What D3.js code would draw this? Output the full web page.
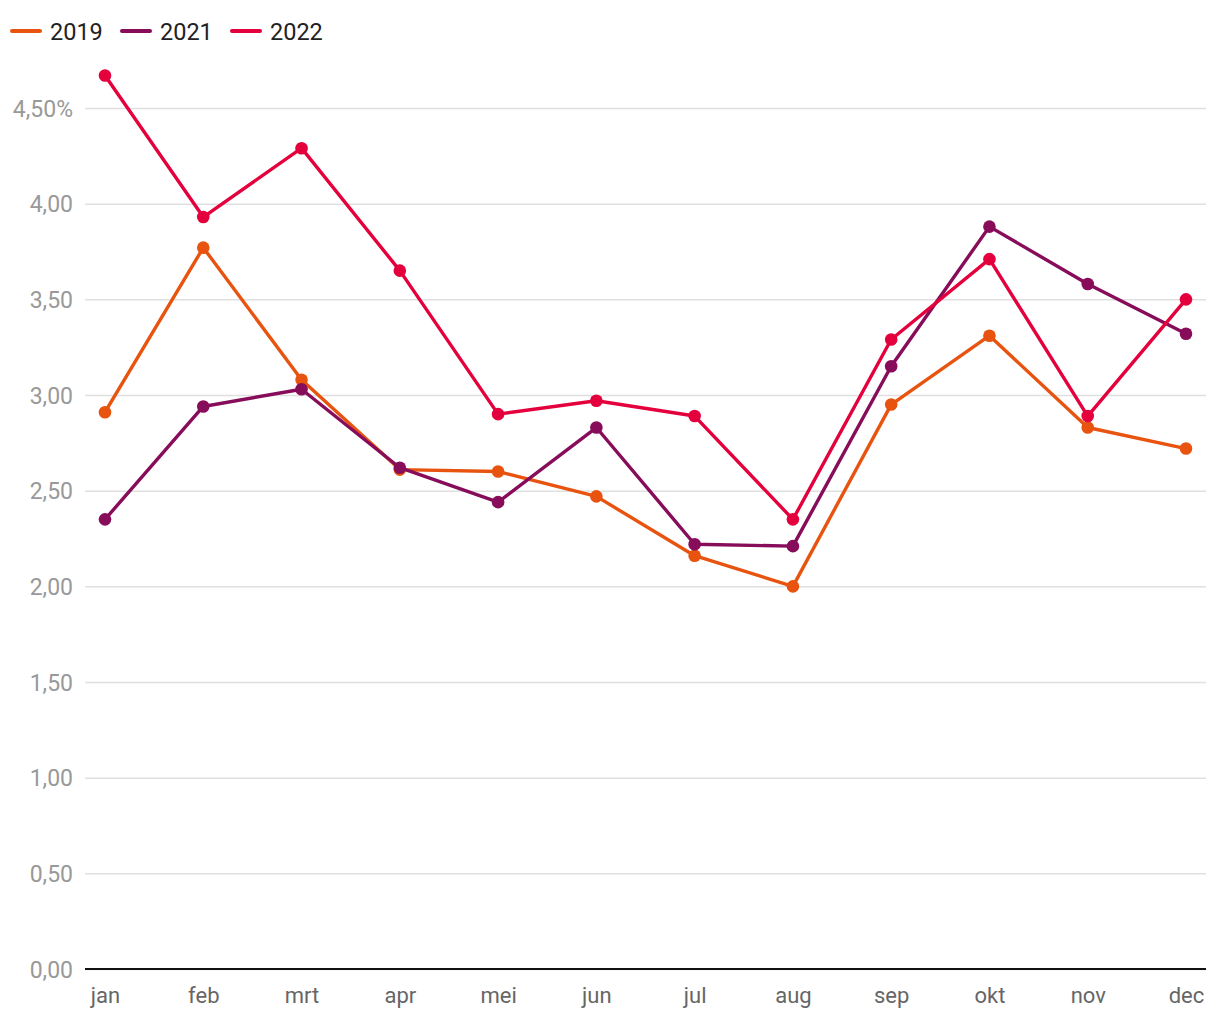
<!DOCTYPE html>
<html><head><meta charset="utf-8">
<script src="https://cdn.jsdelivr.net/npm/d3@7"></script>
<style>body{margin:0;background:#fff;font-family:Roboto,sans-serif}</style>
</head><body><svg id="c" width="1220" height="1020"></svg>
<script>
const months = ["jan","feb","mrt","apr","mei","jun","jul","aug","sep","okt","nov","dec"];
const seriesNames = ["2019","2021","2022"];
const v2019 = [2.91,3.77,3.08,2.61,2.60,2.47,2.16,2.00,2.95,3.31,2.83,2.72];
const v2021 = [2.35,2.94,3.03,2.62,2.44,2.83,2.22,2.21,3.15,3.88,3.58,3.32];
const v2022 = [4.67,3.93,4.29,3.65,2.90,2.97,2.89,2.35,3.29,3.71,2.89,3.50];
const yTicks = [0,0.5,1,1.5,2,2.5,3,3.5,4,4.5];
const colors = ["#e8540f","#870c5a","#e4003c"];
const data = [v2019,v2021,v2022];

const svg = d3.select("#c");
const x = d3.scalePoint().domain(months).range([105,1186]);
const y = d3.scaleLinear().domain([0,4.5]).range([969,108]);
const fmt = v => (v.toFixed(2).replace(".",",")) + (v===4.5?"%":"");

const yAxis = svg.append("g").attr("transform","translate(85,0)")
  .call(d3.axisLeft(y).tickValues(yTicks).tickSize(-1121).tickFormat(fmt).tickPadding(12));
yAxis.select(".domain").remove();
yAxis.selectAll(".tick line").attr("stroke","#e0e0e0").attr("stroke-width",1.5);
yAxis.selectAll(".tick text").attr("fill","#999").attr("font-size",23).attr("font-family","Roboto").attr("dy","0.36em");

svg.append("line").attr("x1",85).attr("x2",1206).attr("y1",y(0)).attr("y2",y(0)).attr("stroke","#111").attr("stroke-width",2);

const xAxis = svg.append("g").attr("transform",`translate(0,${y(0)})`)
  .call(d3.axisBottom(x).tickSize(0).tickPadding(18));
xAxis.select(".domain").remove();
xAxis.selectAll(".tick text").attr("fill","#666").attr("font-size",22).attr("font-family","Roboto");

const line = d3.line().x((d,i)=>x(months[i])).y(d=>y(d));
data.forEach((vals,si)=>{
  svg.append("path").datum(vals).attr("d",line).attr("fill","none")
    .attr("stroke",colors[si]).attr("stroke-width",3.4).attr("stroke-linejoin","round");
  svg.append("g").selectAll("circle").data(vals).join("circle")
    .attr("cx",(d,i)=>x(months[i])).attr("cy",d=>y(d)).attr("r",6.3).attr("fill",colors[si]);
});

const legX = [12,122,232];
seriesNames.forEach((n,i)=>{
  svg.append("line").attr("x1",legX[i]).attr("x2",legX[i]+28).attr("y1",31).attr("y2",31)
    .attr("stroke",colors[i]).attr("stroke-width",4).attr("stroke-linecap","round");
  svg.append("text").attr("x",legX[i]+38).attr("y",40).text(n)
    .attr("font-size",23.5).attr("fill","#222").attr("font-family","Roboto");
});
</script></body></html>
